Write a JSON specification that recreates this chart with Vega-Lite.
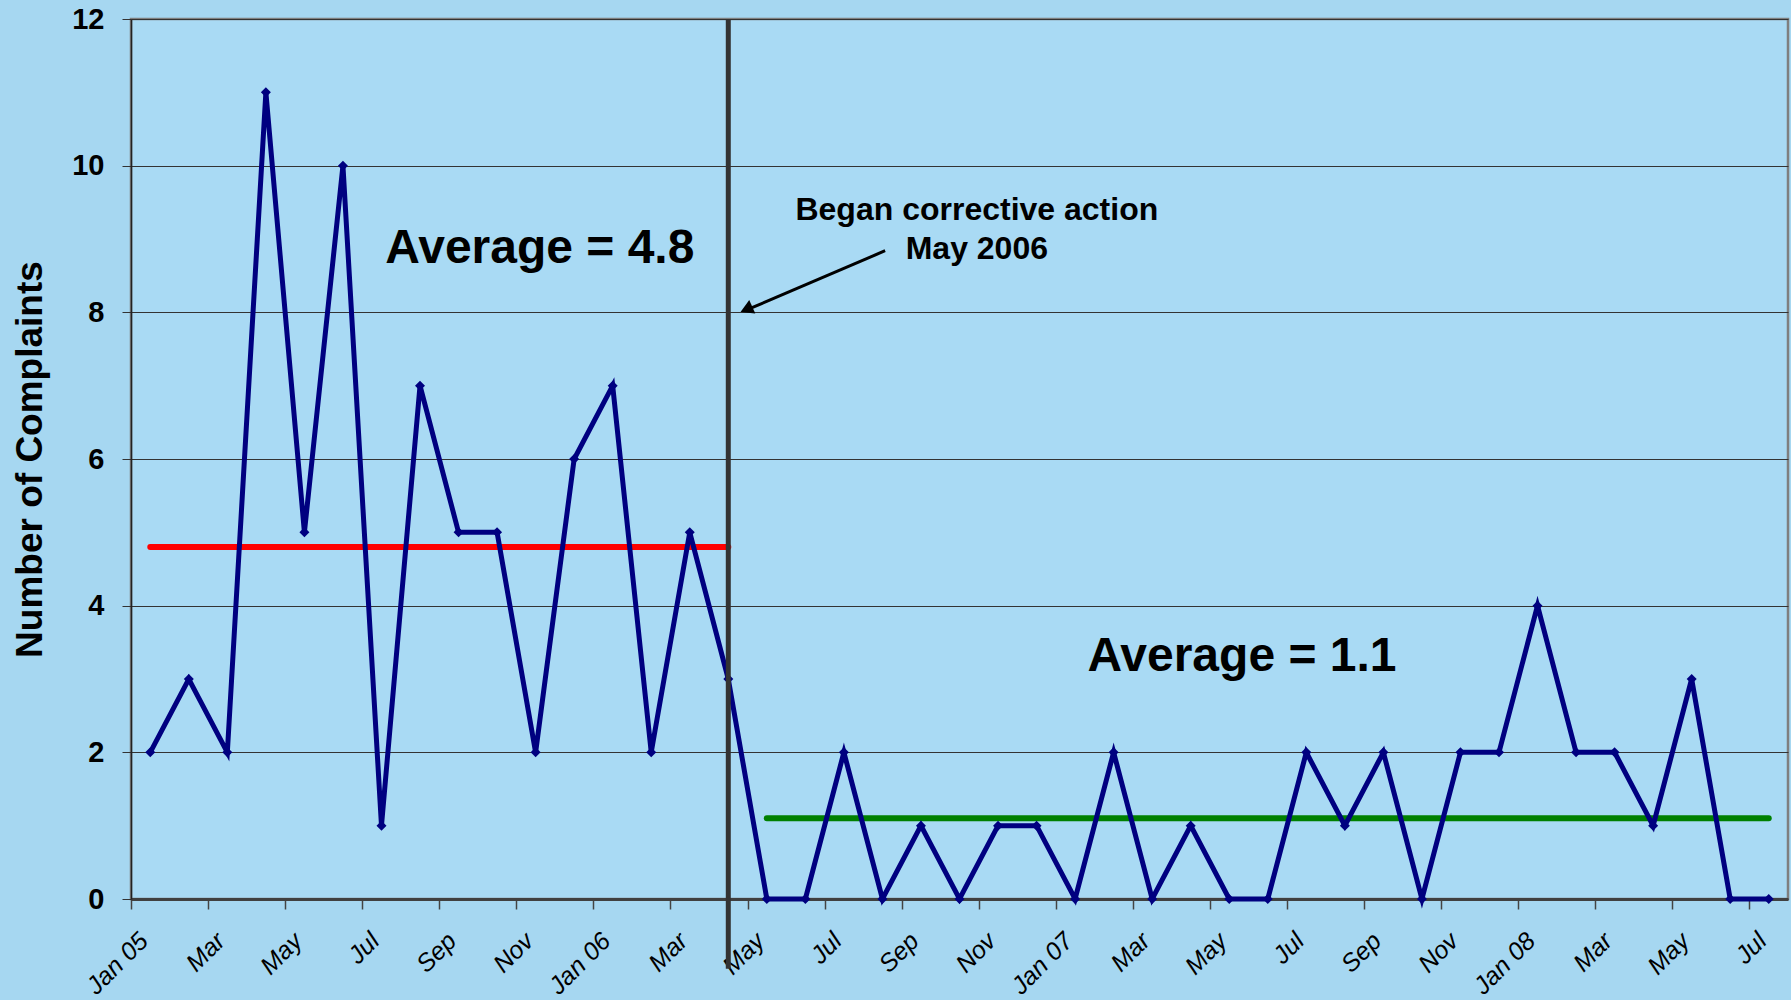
{
  "$schema": "https://vega.github.io/schema/vega-lite/v6.json",
  "width": 1657,
  "height": 880,
  "autosize": {"type": "none"},
  "padding": {"left": 131, "top": 19, "right": 3, "bottom": 101},
  "background": "#a6d7f1",
  "config": {
    "font": "Liberation Sans",
    "view": {"stroke": "#7f7f7f", "strokeWidth": 2.5, "fill": "#a9daf4"}
  },
  "datasets": {
    "complaints": [
      {"month": "2005-01", "idx": 0, "count": 2}, {"month": "2005-02", "idx": 1, "count": 3}, {"month": "2005-03", "idx": 2, "count": 2},
      {"month": "2005-04", "idx": 3, "count": 11}, {"month": "2005-05", "idx": 4, "count": 5}, {"month": "2005-06", "idx": 5, "count": 10},
      {"month": "2005-07", "idx": 6, "count": 1}, {"month": "2005-08", "idx": 7, "count": 7}, {"month": "2005-09", "idx": 8, "count": 5},
      {"month": "2005-10", "idx": 9, "count": 5}, {"month": "2005-11", "idx": 10, "count": 2}, {"month": "2005-12", "idx": 11, "count": 6},
      {"month": "2006-01", "idx": 12, "count": 7}, {"month": "2006-02", "idx": 13, "count": 2}, {"month": "2006-03", "idx": 14, "count": 5},
      {"month": "2006-04", "idx": 15, "count": 3}, {"month": "2006-05", "idx": 16, "count": 0}, {"month": "2006-06", "idx": 17, "count": 0},
      {"month": "2006-07", "idx": 18, "count": 2}, {"month": "2006-08", "idx": 19, "count": 0}, {"month": "2006-09", "idx": 20, "count": 1},
      {"month": "2006-10", "idx": 21, "count": 0}, {"month": "2006-11", "idx": 22, "count": 1}, {"month": "2006-12", "idx": 23, "count": 1},
      {"month": "2007-01", "idx": 24, "count": 0}, {"month": "2007-02", "idx": 25, "count": 2}, {"month": "2007-03", "idx": 26, "count": 0},
      {"month": "2007-04", "idx": 27, "count": 1}, {"month": "2007-05", "idx": 28, "count": 0}, {"month": "2007-06", "idx": 29, "count": 0},
      {"month": "2007-07", "idx": 30, "count": 2}, {"month": "2007-08", "idx": 31, "count": 1}, {"month": "2007-09", "idx": 32, "count": 2},
      {"month": "2007-10", "idx": 33, "count": 0}, {"month": "2007-11", "idx": 34, "count": 2}, {"month": "2007-12", "idx": 35, "count": 2},
      {"month": "2008-01", "idx": 36, "count": 4}, {"month": "2008-02", "idx": 37, "count": 2}, {"month": "2008-03", "idx": 38, "count": 2},
      {"month": "2008-04", "idx": 39, "count": 1}, {"month": "2008-05", "idx": 40, "count": 3}, {"month": "2008-06", "idx": 41, "count": 0},
      {"month": "2008-07", "idx": 42, "count": 0}
    ],
    "averages": [
      {"idx": 0, "avg": 4.8, "period": "before"},
      {"idx": 15, "avg": 4.8, "period": "before"},
      {"idx": 16, "avg": 1.1, "period": "after"},
      {"idx": 42, "avg": 1.1, "period": "after"}
    ]
  },
  "layer": [
    {
      "data": {"name": "averages"},
      "mark": {"type": "line", "strokeWidth": 6, "strokeCap": "round"},
      "encoding": {
        "x": {
          "field": "idx",
          "type": "quantitative",
          "scale": {"domain": [-0.5, 42.5], "nice": false, "zero": false},
          "axis": {
            "title": null,
            "values": [0,1,2,3,4,5,6,7,8,9,10,11,12,13,14,15,16,17,18,19,20,21,22,23,24,25,26,27,28,29,30,31,32,33,34,35,36,37,38,39,40,41,42,43],
            "tickOffset": -19.27,
            "labelOffset": 4,
            "labelAngle": -45,
            "labelFontSize": 25,
            "labelFontStyle": "italic",
            "labelColor": "black",
            "labelPadding": 19,
            "labelOverlap": false,
            "labelFlush": false,
            "labelBound": false,
            "tickSize": 10,
            "tickColor": "#444444",
            "tickWidth": 1.5,
            "domainColor": "#404040",
            "domainWidth": 3,
            "grid": false,
            "labelExpr": "(datum.value % 2 != 0 || datum.value > 42) ? '' : (datum.value % 12 == 0 ? 'Jan 0' + (5 + datum.value / 12) : ['Jan','Feb','Mar','Apr','May','Jun','Jul','Aug','Sep','Oct','Nov','Dec'][datum.value % 12])"
          }
        },
        "y": {
          "field": "avg",
          "type": "quantitative",
          "scale": {"domain": [0, 12], "nice": false},
          "axis": {
            "title": "Number of Complaints",
            "titleFontSize": 37,
            "titleFontWeight": "bold",
            "titleColor": "black",
            "titlePadding": 22,
            "values": [0, 2, 4, 6, 8, 10, 12],
            "format": "d",
            "labelFontSize": 29,
            "labelFontWeight": "bold",
            "labelColor": "black",
            "labelPadding": 18,
            "tickSize": 9,
            "tickColor": "#333333",
            "domainColor": "#222222",
            "domainWidth": 1.5,
            "grid": true,
            "gridColor": "#333333",
            "gridWidth": 1
          }
        },
        "color": {"field": "period", "type": "nominal",
          "scale": {"domain": ["before", "after"], "range": ["#ff0000", "#008000"]}, "legend": null}
      }
    },
    {
      "data": {"name": "complaints"},
      "mark": {"type": "line", "color": "#000080", "strokeWidth": 5,
        "point": {"shape": "diamond", "size": 100, "filled": true, "color": "#000080"}},
      "encoding": {
        "x": {"field": "idx", "type": "quantitative"},
        "y": {"field": "count", "type": "quantitative"}
      }
    },
    {
      "data": {"values": [{"idx": 15, "top": 12, "bottom": -0.95}]},
      "mark": {"type": "rule", "color": "#333333", "strokeWidth": 5},
      "encoding": {
        "x": {"field": "idx", "type": "quantitative"},
        "y": {"field": "top", "type": "quantitative"},
        "y2": {"field": "bottom"}
      }
    },
    {
      "data": {"values": [
        {"mx": 10.11, "my": 8.86, "label": "Average = 4.8"},
        {"mx": 28.33, "my": 3.3, "label": "Average = 1.1"}
      ]},
      "mark": {"type": "text", "fontSize": 48, "fontWeight": "bold", "color": "black", "baseline": "middle", "align": "center"},
      "encoding": {
        "x": {"field": "mx", "type": "quantitative"},
        "y": {"field": "my", "type": "quantitative"},
        "text": {"field": "label"}
      }
    },
    {
      "data": {"values": [
        {"mx": 21.45, "my": 9.4, "label": "Began corrective action"},
        {"mx": 21.45, "my": 8.86, "label": "May 2006"}
      ]},
      "mark": {"type": "text", "fontSize": 32, "fontWeight": "bold", "color": "black", "baseline": "middle", "align": "center"},
      "encoding": {
        "x": {"field": "mx", "type": "quantitative"},
        "y": {"field": "my", "type": "quantitative"},
        "text": {"field": "label"}
      }
    },
    {
      "data": {"values": [{"mx": 19.07, "my": 8.84, "mx2": 15.6, "my2": 8.06}]},
      "mark": {"type": "rule", "color": "black", "strokeWidth": 3},
      "encoding": {
        "x": {"field": "mx", "type": "quantitative"},
        "y": {"field": "my", "type": "quantitative"},
        "x2": {"field": "mx2"},
        "y2": {"field": "my2"}
      }
    },
    {
      "data": {"values": [{"mx": 15.47, "my": 8.04}]},
      "mark": {"type": "point", "shape": "triangle-up", "filled": true, "color": "black", "opacity": 1, "size": 220, "angle": 246},
      "encoding": {
        "x": {"field": "mx", "type": "quantitative"},
        "y": {"field": "my", "type": "quantitative"}
      }
    }
  ]
}
